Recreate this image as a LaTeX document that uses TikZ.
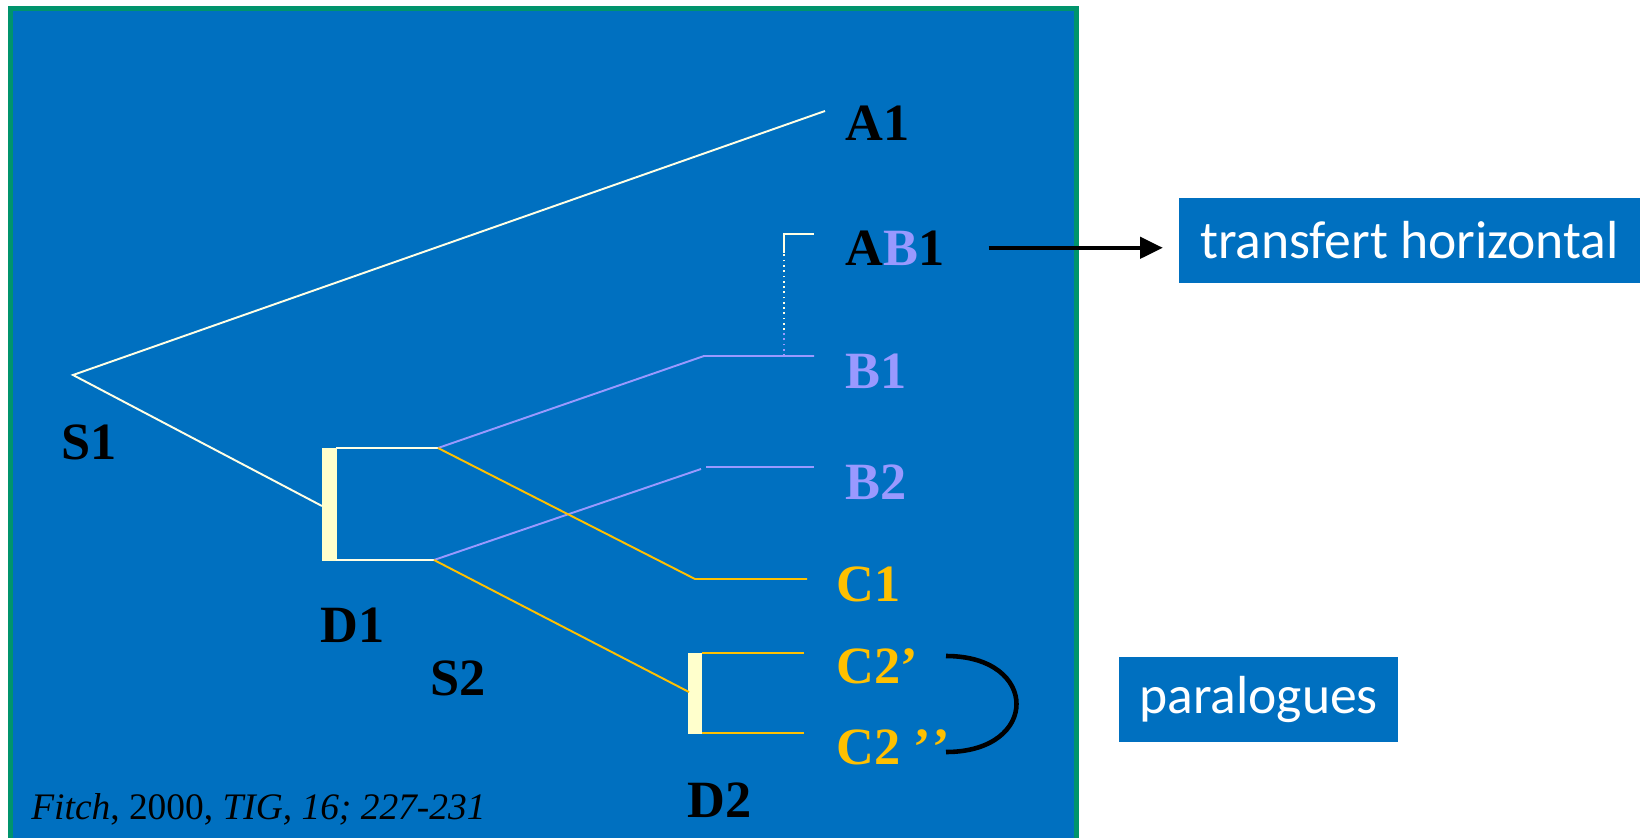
\documentclass[tikz,border=0pt]{standalone}
\usepackage{fontspec}
\setmainfont{Liberation Serif}
\newfontfamily\boxfont{Carlito}
\usetikzlibrary{arrows.meta}

\definecolor{panelblue}{RGB}{0,112,192}
\definecolor{panelgreen}{RGB}{0,148,108}
\definecolor{lavender}{RGB}{153,153,255}
\definecolor{gold}{RGB}{255,192,0}
\definecolor{barfill}{RGB}{255,255,204}
\definecolor{pale}{RGB}{255,255,229}

\begin{document}
\begin{tikzpicture}[x=0.02cm, y=-0.02cm,
    lbl/.style={anchor=base west, inner sep=0pt, font=\fontsize{29.8}{32}\selectfont\bfseries},
    twig/.style={line width=1.1pt},
    notebox/.style={fill=panelblue, text=white, inner sep=0pt, font=\boxfont\fontsize{30.5}{33}\selectfont}]
    \useasboundingbox (0,0) rectangle (1643,838);
    \fill[white] (0,0) rectangle (1643,838);
    \fill[panelblue] (9,7) rectangle (1078,838);
    \draw[panelgreen, line width=2.8pt] (10.5,838) -- (10.5,8.5) -- (1076.5,8.5) -- (1076.5,838);

    \coordinate (s1) at (73,375);
    \coordinate (a1end) at (825,111);
    \coordinate (d1hit) at (322,506);
    \coordinate (d1top) at (336,448);
    \coordinate (d1bot) at (336,560);
    \coordinate (n1) at (438,448);
    \coordinate (n2) at (434,560);
    \coordinate (b1knee) at (704,356);
    \coordinate (b1end) at (814,356);
    \coordinate (hgt) at (784,356);
    \coordinate (hgtmid) at (784,330);
    \coordinate (hgtup) at (784,253);
    \coordinate (hgtcorner) at (784,234);
    \coordinate (ab1end) at (814,234);
    \coordinate (b2knee) at (701,469);
    \coordinate (b2start) at (706,467);
    \coordinate (b2end) at (814,467);
    \coordinate (c1knee) at (695,579);
    \coordinate (c1end) at (807,579);
    \coordinate (d2hit) at (689,692);
    \coordinate (d2top) at (702,653);
    \coordinate (d2bot) at (702,733);
    \coordinate (c2aend) at (804,653);
    \coordinate (c2bend) at (804,733);

    \fill[barfill] (322,448) rectangle (337,561);
    \fill[barfill] (688,653) rectangle (702,734);

    \draw[twig, pale] (a1end) -- (s1) -- (d1hit);
    \draw[twig, pale] (d1top) -- (n1);
    \draw[twig, pale] (d1bot) -- (n2);
    \draw[twig, lavender] (n1) -- (b1knee) -- (b1end);
    \draw[twig, lavender] (n2) -- (b2knee);
    \draw[twig, lavender] (b2start) -- (b2end);
    \draw[twig, gold] (n1) -- (c1knee) -- (c1end);
    \draw[twig, gold] (n2) -- (d2hit);
    \draw[twig, gold] (d2top) -- (c2aend);
    \draw[twig, gold] (d2bot) -- (c2bend);
    \draw[line width=1pt, lavender, dotted] (hgt) -- (hgtmid);
    \draw[line width=1pt, pale, dotted] (hgtmid) -- (hgtup);
    \draw[twig, pale] (hgtup) -- (hgtcorner) -- (ab1end);

    \node[lbl] (a1) at (845,140) {A1};
    \node[lbl] (ab1) at (845,265) {A\textcolor{lavender}{B}1};
    \node[lbl, text=lavender] (b1) at (845,388) {B1};
    \node[lbl, text=lavender] (b2) at (845,499) {B2};
    \node[lbl, text=gold] (c1) at (836,601) {C1};
    \node[lbl, text=gold] (c2a) at (836,683) {C2’};
    \node[lbl, text=gold] (c2b) at (836,764) {C2 ’\kern1pt’};
    \node[lbl] (s1lbl) at (61,459) {S1};
    \node[lbl] (d1) at (320,642) {D1};
    \node[lbl] (s2) at (430,695) {S2};
    \node[lbl] (d2) at (687,817) {D2};
    \node[anchor=base west, inner sep=0pt, font=\fontsize{21.3}{24}\selectfont] (ref) at (31,819) {\textit{Fitch}, 2000, \textit{TIG, 16; 227-231}};

    \node[notebox, minimum width=9.22cm, minimum height=1.7cm] (transfert) at (1409.5,240.5) {transfert horizontal};
    \node[notebox, minimum width=5.58cm, minimum height=1.7cm] (paralog) at (1258.5,699.5) {paralogues};

    \draw[line width=2.4pt, -{Triangle[length=13pt, width=12pt]}, shorten <=25pt, shorten >=9pt] (ab1.east) -- (ab1.east -| transfert.west);

    \coordinate (parA) at (946,656);
    \coordinate (parB) at (946,752);
    \draw[line width=2.6pt] (parA) .. controls (1040,656) and (1040,752) .. (parB);
\end{tikzpicture}
\end{document}
